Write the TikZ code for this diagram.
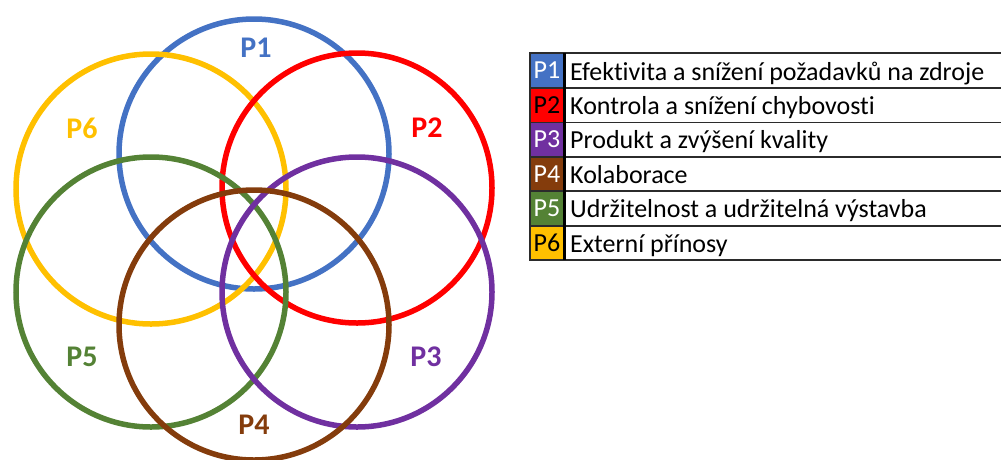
\documentclass[tikz,border=0pt]{standalone}
\usepackage{fontspec}
\setmainfont{Carlito}[Ligatures=NoCommon]
\definecolor{pblue}{HTML}{4472C4}
\definecolor{pred}{HTML}{FF0000}
\definecolor{ppurple}{HTML}{7030A0}
\definecolor{pbrown}{HTML}{843C0C}
\definecolor{pgreen}{HTML}{548235}
\definecolor{pyellow}{HTML}{FFC000}
\definecolor{frame}{HTML}{2B2B2B}
\begin{document}
\begin{tikzpicture}[x=1pt,y=-1pt,
  ring/.style={draw=#1,line width=5.5pt,circle,minimum size=270pt,inner sep=0pt},
  ringlabel/.style={text=#1,font=\fontsize{30}{30}\selectfont\bfseries,inner sep=0pt},
  keycell/.style={fill=#1,minimum width=34pt,minimum height=34.45pt,inner sep=0pt,
    font=\fontsize{26}{26}\selectfont},
  keytext/.style={anchor=base west,inner sep=0pt,font=\fontsize{26}{26}\selectfont}]
\useasboundingbox (0,0) rectangle (1001,459);

% overlapping rings
\node[ring=pblue]   (c1) at (254,154) {};
\node[ring=pyellow] (c6) at (151,189) {};
\node[ring=pred]    (c2) at (357,188) {};
\node[ring=pgreen]  (c5) at (151,292) {};
\node[ring=ppurple] (c3) at (357,292) {};
\node[ring=pbrown]  (c4) at (254,325) {};

\node[ringlabel=pblue]   (l1) at (256,48)  {P1};
\node[ringlabel=pred]    (l2) at (427,128) {P2};
\node[ringlabel=ppurple] (l3) at (426,357) {P3};
\node[ringlabel=pbrown]  (l4) at (254,425) {P4};
\node[ringlabel=pgreen]  (l5) at (82,357)  {P5};
\node[ringlabel=pyellow] (l6) at (82,128)  {P6};

% legend: coloured key cells
\node[keycell=pblue,text=white]   (k1) at (547,70.5)  {P1};
\node[keycell=pred,text=black]    (k2) at (547,104.9) {P2};
\node[keycell=ppurple,text=white] (k3) at (547,139.4) {P3};
\node[keycell=pbrown,text=white]  (k4) at (547,173.8) {P4};
\node[keycell=pgreen,text=white]  (k5) at (547,208.3) {P5};
\node[keycell=pyellow,text=black] (k6) at (547,242.7) {P6};

% legend: descriptions
\node[keytext] (t1) at (570,80.0)  {Efektivita a snížení požadavků na zdroje};
\node[keytext] (t2) at (570,114.4) {Kontrola a snížení chybovosti};
\node[keytext] (t3) at (570,148.9) {Produkt a zvýšení kvality};
\node[keytext] (t4) at (570,183.3) {Kolaborace};
\node[keytext] (t5) at (570,217.8) {Udržitelnost a udržitelná výstavba};
\node[keytext] (t6) at (570,252.2) {Externí přínosy};

% legend grid
\foreach \r in {k1,k2,k3,k4,k5}
  \draw[frame,line width=1.6pt] (\r.south west) -- ([xshift=480pt]\r.south west);
\draw[frame,line width=2pt] (k1.north west) rectangle ([xshift=480pt]k6.south west);
\draw[black,line width=3pt] (k1.north east) -- (k6.south east);
\end{tikzpicture}
\end{document}
